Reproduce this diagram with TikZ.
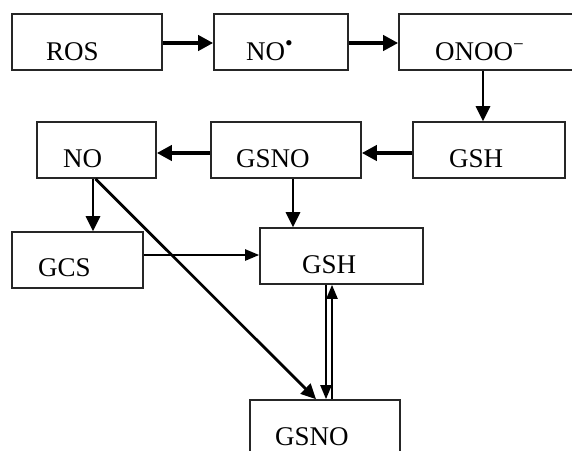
\documentclass[tikz,border=0pt]{standalone}
\usepackage{fontspec}
\setmainfont{Liberation Serif}
\usetikzlibrary{arrows.meta}

\begin{document}
\begin{tikzpicture}[x=1pt,y=-1pt,
  box/.style={draw=black!85, line width=1.6pt, minimum height=56pt, inner sep=0pt, fill=white},
  txt/.style={anchor=base west, inner sep=0pt, font=\fontsize{27}{31}\selectfont},
  bigarrow/.style={line width=4pt, -{Triangle[length=15pt,width=15pt]}},
  midarrow/.style={line width=2.8pt, -{Triangle[length=15pt,width=14pt]}},
  thinarrow/.style={line width=2.2pt, -{Triangle[length=14pt,width=11pt]}}]
\clip (0,0) rectangle (572,450);
\fill[white] (0,0) rectangle (572,450);

% boxes
\node[box, minimum width=150pt] (ros)   at (87,42)    {};
\node[box, minimum width=134pt] (nor)   at (281,42)   {};
\node[box, minimum width=191pt] (onoo)  at (494.5,42) {};
\node[box, minimum width=119pt] (no)    at (96.5,150) {};
\node[box, minimum width=150pt] (gsno)  at (286,150)  {};
\node[box, minimum width=152pt] (gsh)   at (489,150)  {};
\node[box, minimum width=131pt] (gcs)   at (77.5,260) {};
\node[box, minimum width=163pt] (gshb)  at (341.5,256) {};
\node[box, minimum width=150pt] (gsnob) at (325,428)  {};

% labels
\node[txt] (ros-t)   at (46,60)   {ROS};
\node[txt] (nor-t)   at (246,60)  {NO\textsuperscript{\fontsize{22}{22}\selectfont •}};
\node[txt] (onoo-t)  at (435,60)  {ONOO\textsuperscript{−}};
\node[txt] (no-t)    at (63,167)  {NO};
\node[txt] (gsno-t)  at (236,167) {GSNO};
\node[txt] (gsh-t)   at (449,167) {GSH};
\node[txt] (gcs-t)   at (38,276)  {GCS};
\node[txt] (gshb-t)  at (302,273) {GSH};
\node[txt] (gsnob-t) at (275,445) {GSNO};

% top row
\draw[bigarrow] ([yshift=-1pt]ros.east) -- ([yshift=-1pt]nor.west);
\draw[bigarrow] ([yshift=-1pt]nor.east) -- ([yshift=-1pt]onoo.west);
\draw[midarrow] ([xshift=-6pt]gsh.north |- onoo.south) -- ([xshift=-6pt]gsh.north);

% middle row
\draw[bigarrow] ([yshift=-3pt]gsh.west) -- ([yshift=-3pt]gsno.east);
\draw[bigarrow] ([yshift=-3pt]gsno.west) -- ([yshift=-3pt]no.east);
\draw[midarrow] ([xshift=-3.5pt]no.south) -- ([xshift=-3.5pt]no.south |- gcs.north);
\draw[midarrow] ([xshift=7pt]gsno.south) -- ([xshift=7pt]gsno.south |- gshb.north);
\draw[midarrow] ([xshift=-1pt]no.south) -- ([xshift=-9pt]gsnob.north);

% lower part
\draw[thinarrow] ([yshift=5pt]gcs.east) -- ([yshift=5pt]gcs.east -| gshb.west);
\draw[thinarrow] ([xshift=1pt]gsnob.north |- gshb.south) -- ([xshift=1pt]gsnob.north);
\draw[thinarrow] ([xshift=7pt]gsnob.north) -- ([xshift=7pt]gsnob.north |- gshb.south);
\end{tikzpicture}
\end{document}
